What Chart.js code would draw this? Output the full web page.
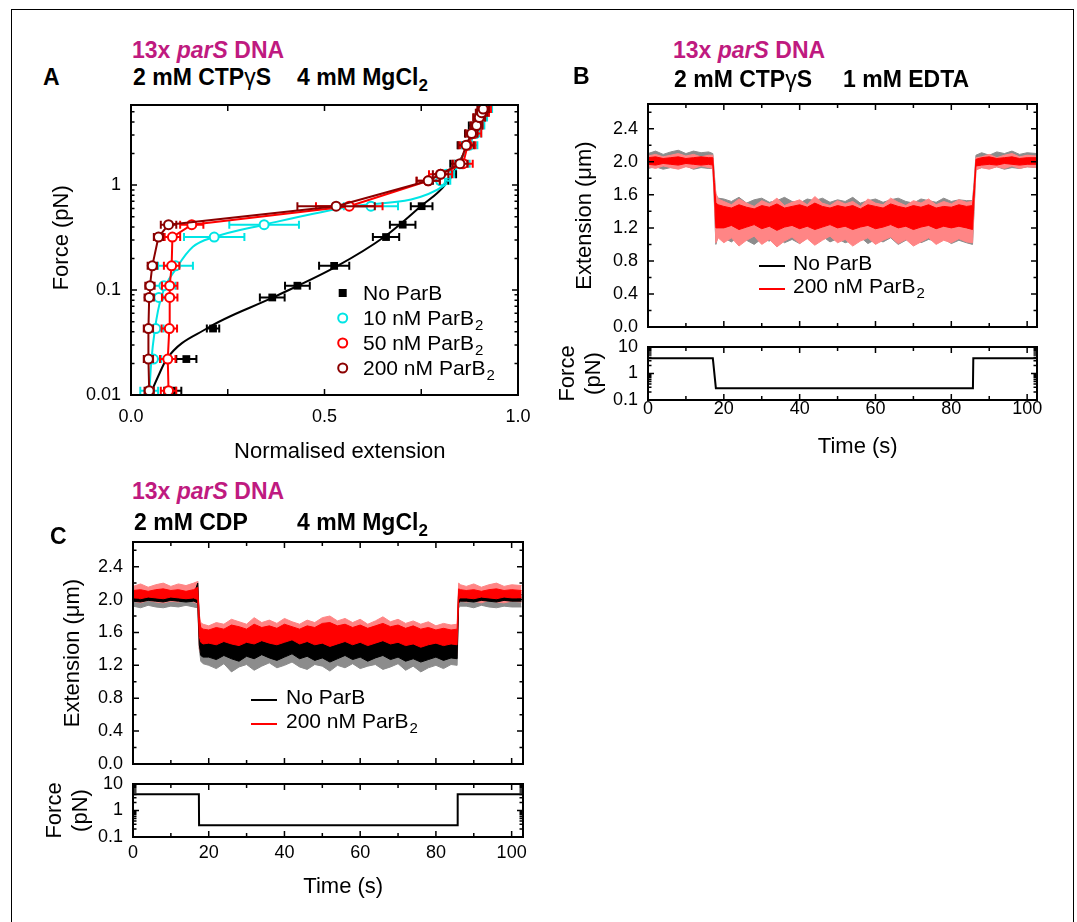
<!DOCTYPE html>
<html>
<head>
<meta charset="utf-8">
<script src="https://cdn.jsdelivr.net/npm/chart.js@4.4.1/dist/chart.umd.min.js"></script>
<style>
  body { margin: 0; width: 1077px; height: 922px; background: #fff; position: relative; overflow: hidden;
         font-family: "Liberation Sans", Arial, sans-serif; }
  .frame { position: absolute; left: 11px; top: 9px; width: 1061px; height: 960px; border: 1px solid #000; }
  canvas { position: absolute; }
  .t { position: absolute; font-weight: bold; font-size: 23px; line-height: 1; white-space: nowrap; }
  .mag { color: #bf1a80; }
  .g { font-weight: normal; }
  sub { font-size: 17px; vertical-align: -6px; line-height: 0; }
</style>
</head>
<body>
<div class="frame"></div>

<canvas id="cA" width="502" height="370" style="left:30px;top:95px"></canvas>
<canvas id="cBext" width="500" height="256" style="left:550px;top:89px"></canvas>
<canvas id="cBforce" width="500" height="128" style="left:550px;top:332px"></canvas>
<canvas id="cCext" width="505" height="253" style="left:30px;top:527px"></canvas>
<canvas id="cCforce" width="505" height="131" style="left:30px;top:769px"></canvas>

<div class="t mag" style="left:132px;top:39px">13x <i>parS</i> DNA</div>
<div class="t" style="left:43px;top:66px">A</div>
<div class="t" style="left:133px;top:66px">2 mM CTP<span class="g">γ</span>S</div>
<div class="t" style="left:297px;top:66px">4 mM MgCl<sub>2</sub></div>

<div class="t mag" style="left:673px;top:39px">13x <i>parS</i> DNA</div>
<div class="t" style="left:573px;top:65px">B</div>
<div class="t" style="left:674px;top:68px">2 mM CTP<span class="g">γ</span>S</div>
<div class="t" style="left:843px;top:68px">1 mM EDTA</div>

<div class="t mag" style="left:132px;top:480px">13x <i>parS</i> DNA</div>
<div class="t" style="left:50px;top:525px">C</div>
<div class="t" style="left:134px;top:511px">2 mM CDP</div>
<div class="t" style="left:297px;top:511px">4 mM MgCl<sub>2</sub></div>

<script>
// ---------- panel A: force vs normalised extension ----------
const forceA = [0.011, 0.022, 0.043, 0.085, 0.11, 0.17, 0.32, 0.42, 0.63, 1.1, 1.27, 1.6, 2.4, 3.1, 3.7, 4.4, 4.9, 5.3];
const extNoParB = [0.108, 0.143, 0.212, 0.365, 0.43, 0.525, 0.659, 0.702, 0.751, 0.80, 0.82, 0.845, 0.862, 0.878, 0.888, 0.897, 0.905, 0.912];
const errNoParB = [0.022, 0.026, 0.016, 0.032, 0.032, 0.039, 0.034, 0.033, 0.028, 0.02, 0.02, 0.02, 0.018, 0.015, 0.015, 0.012, 0.012, 0.012];
const ext10 = [0.047, 0.058, 0.064, 0.072, 0.085, 0.115, 0.215, 0.344, 0.62, 0.80, 0.815, 0.855, 0.875, 0.89, 0.898, 0.905, 0.91, 0.918];
const err10 = [0.023, 0.02, 0.02, 0.025, 0.03, 0.045, 0.078, 0.09, 0.07, 0.025, 0.02, 0.02, 0.02, 0.015, 0.015, 0.015, 0.015, 0.015];
const ext50 = [0.097, 0.095, 0.099, 0.10, 0.10, 0.105, 0.107, 0.157, 0.564, 0.768, 0.80, 0.858, 0.87, 0.885, 0.893, 0.90, 0.91, 0.915];
const err50 = [0.02, 0.02, 0.02, 0.02, 0.02, 0.02, 0.02, 0.03, 0.086, 0.03, 0.03, 0.025, 0.02, 0.02, 0.015, 0.015, 0.015, 0.015];
const ext200 = [0.047, 0.045, 0.045, 0.047, 0.049, 0.055, 0.071, 0.097, 0.53, 0.768, 0.80, 0.85, 0.866, 0.88, 0.893, 0.90, 0.906, 0.91];
const err200 = [0.012, 0.012, 0.012, 0.012, 0.012, 0.012, 0.012, 0.02, 0.1, 0.03, 0.02, 0.02, 0.02, 0.015, 0.015, 0.015, 0.015, 0.015];

// fitted curves
const fitNoParBX = [0.049, 0.07, 0.092, 0.196, 0.367, 0.53, 0.654, 0.749, 0.811, 0.872, 0.928];
const fitNoParBF = [0.01, 0.015, 0.022, 0.043, 0.085, 0.167, 0.32, 0.63, 1.0, 2.4, 5.75];
const fit10X = [0.047, 0.052, 0.062, 0.078, 0.12, 0.16, 0.215, 0.344, 0.574, 0.811, 0.872, 0.928];
const fit10F = [0.01, 0.02, 0.043, 0.085, 0.167, 0.258, 0.32, 0.42, 0.63, 1.0, 2.4, 5.75];

const xTicksA = [0, 0.5, 1];
const xMarksA = [0, 0.25, 0.5, 0.75, 1];
const yTicksA = [0.01, 0.1, 1];
const yMinorA = [0.02, 0.03, 0.04, 0.05, 0.06, 0.07, 0.08, 0.09, 0.2, 0.3, 0.4, 0.5, 0.6, 0.7, 0.8, 0.9, 2, 3, 4, 5];

// ---------- panels B and C: extension and force vs time ----------
const tTrace = [0, 2, 4, 6, 8, 10, 12, 14, 16, 17.1, 17.5, 17.9, 18.5,
  20, 22, 24, 26, 28, 30, 32, 34, 36, 38, 40, 42, 44, 46, 48, 50, 52, 54, 56, 58, 60,
  62, 64, 66, 68, 70, 72, 74, 76, 78, 80, 82, 84, 85.6, 86.0, 86.5, 88, 90, 92, 94, 96, 98, 100, 102.6];

// B, 200 nM ParB2: outer envelope and dense core
const bRedHi = [2.07, 2.09, 2.06, 2.08, 2.10, 2.07, 2.09, 2.06, 2.08, 2.08, 1.80, 1.62, 1.55,
  1.52, 1.48, 1.55, 1.50, 1.46, 1.53, 1.49, 1.56, 1.47, 1.51, 1.54, 1.48, 1.58, 1.50, 1.47, 1.53, 1.49, 1.52, 1.46, 1.55,
  1.50, 1.48, 1.56, 1.51, 1.47, 1.53, 1.50, 1.55, 1.48, 1.52, 1.49, 1.54, 1.51, 1.52, 1.70, 2.05,
  2.06, 2.09, 2.05, 2.08, 2.10, 2.06, 2.08, 2.07];
const bRedLo = [1.94, 1.92, 1.95, 1.93, 1.91, 1.94, 1.92, 1.95, 1.93, 1.92, 1.55, 1.02, 1.08,
  1.02, 1.08, 0.98, 1.05, 1.10, 1.00, 1.06, 0.97, 1.04, 1.09, 1.01, 1.07, 0.99, 1.05, 1.10, 1.02, 1.06, 0.98, 1.04, 1.08,
  1.00, 1.05, 1.09, 1.01, 1.06, 0.98, 1.03, 1.08, 1.00, 1.05, 1.02, 1.07, 1.03, 1.02, 1.45, 1.90,
  1.93, 1.91, 1.94, 1.92, 1.95, 1.92, 1.94, 1.93];
const bRedCoreHi = [2.05, 2.06, 2.04, 2.05, 2.06, 2.04, 2.05, 2.06, 2.05, 2.05, 1.75, 1.50, 1.48,
  1.46, 1.44, 1.48, 1.45, 1.43, 1.47, 1.45, 1.49, 1.44, 1.46, 1.48, 1.45, 1.50, 1.46, 1.44, 1.47, 1.45, 1.47, 1.43, 1.48,
  1.46, 1.44, 1.49, 1.46, 1.44, 1.47, 1.45, 1.48, 1.44, 1.46, 1.45, 1.48, 1.46, 1.47, 1.68, 2.03,
  2.05, 2.06, 2.04, 2.05, 2.06, 2.04, 2.05, 2.05];
const bRedCoreLo = [1.97, 1.96, 1.98, 1.97, 1.96, 1.98, 1.97, 1.96, 1.97, 1.96, 1.62, 1.20, 1.20,
  1.20, 1.23, 1.18, 1.21, 1.24, 1.19, 1.22, 1.17, 1.21, 1.23, 1.19, 1.22, 1.18, 1.21, 1.24, 1.20, 1.22, 1.18, 1.21, 1.23,
  1.19, 1.21, 1.24, 1.20, 1.22, 1.18, 1.21, 1.23, 1.19, 1.22, 1.20, 1.22, 1.20, 1.18, 1.55, 1.95,
  1.96, 1.97, 1.96, 1.98, 1.97, 1.96, 1.97, 1.97];
// B, no ParB
const bGreyHi = [2.10, 2.13, 2.09, 2.12, 2.14, 2.10, 2.13, 2.11, 2.12, 2.10, 1.85, 1.60, 1.56,
  1.55, 1.52, 1.57, 1.50, 1.54, 1.56, 1.51, 1.53, 1.57, 1.52, 1.50, 1.55, 1.53, 1.56, 1.51, 1.54, 1.52, 1.57, 1.50, 1.53,
  1.55, 1.51, 1.54, 1.56, 1.52, 1.50, 1.55, 1.53, 1.51, 1.56, 1.52, 1.54, 1.53, 1.53, 1.75, 2.08,
  2.11, 2.08, 2.12, 2.10, 2.13, 2.09, 2.11, 2.10];
const bGreyLo = [1.92, 1.94, 1.91, 1.93, 1.92, 1.95, 1.91, 1.93, 1.92, 1.92, 1.50, 1.00, 1.10,
  1.08, 1.03, 1.10, 1.05, 1.00, 1.07, 1.04, 1.09, 1.02, 1.06, 1.01, 1.08, 1.04, 1.10, 1.03, 1.07, 1.02, 1.05, 1.09, 1.01,
  1.06, 1.03, 1.08, 1.00, 1.05, 1.09, 1.02, 1.06, 1.04, 1.07, 1.01, 1.05, 1.02, 1.00, 1.40, 1.91,
  1.93, 1.92, 1.94, 1.91, 1.93, 1.92, 1.94, 1.93];

// C, 200 nM ParB2
const cRedHi = [2.16, 2.19, 2.15, 2.18, 2.20, 2.16, 2.19, 2.17, 2.20, 2.22, 1.82, 1.72, 1.70,
  1.68, 1.72, 1.70, 1.76, 1.73, 1.70, 1.78, 1.72, 1.75, 1.71, 1.77, 1.73, 1.70, 1.75, 1.72, 1.78, 1.80, 1.74, 1.77, 1.72,
  1.76, 1.70, 1.74, 1.79, 1.73, 1.76, 1.71, 1.74, 1.70, 1.73, 1.68, 1.71, 1.69, 1.70, 2.20, 2.18,
  2.16, 2.19, 2.15, 2.18, 2.20, 2.16, 2.18, 2.17];
const cRedLo = [1.98, 1.96, 1.99, 1.97, 1.96, 1.98, 1.97, 1.99, 1.97, 1.95, 1.40, 1.35, 1.32,
  1.36, 1.32, 1.38, 1.34, 1.30, 1.37, 1.33, 1.39, 1.35, 1.31, 1.36, 1.40, 1.34, 1.38, 1.32, 1.36, 1.28, 1.34, 1.38, 1.33,
  1.37, 1.31, 1.35, 1.39, 1.33, 1.36, 1.30, 1.34, 1.27, 1.33, 1.36, 1.31, 1.34, 1.33, 1.95, 1.98,
  1.97, 1.98, 1.96, 1.99, 1.97, 1.96, 1.98, 1.97];
const cRedCoreHi = [2.11, 2.12, 2.10, 2.12, 2.13, 2.11, 2.12, 2.10, 2.12, 2.15, 1.78, 1.66, 1.64,
  1.63, 1.66, 1.64, 1.69, 1.67, 1.64, 1.70, 1.66, 1.68, 1.65, 1.70, 1.67, 1.64, 1.68, 1.66, 1.71, 1.72, 1.68, 1.70, 1.66,
  1.69, 1.65, 1.68, 1.71, 1.67, 1.69, 1.65, 1.68, 1.64, 1.66, 1.63, 1.65, 1.63, 1.64, 2.13, 2.12,
  2.11, 2.12, 2.10, 2.12, 2.13, 2.11, 2.12, 2.11];
const cRedCoreLo = [2.02, 2.01, 2.03, 2.02, 2.01, 2.03, 2.02, 2.01, 2.02, 2.00, 1.55, 1.48, 1.46,
  1.47, 1.45, 1.49, 1.46, 1.44, 1.48, 1.46, 1.50, 1.47, 1.45, 1.48, 1.51, 1.46, 1.49, 1.45, 1.47, 1.43, 1.46, 1.49, 1.45,
  1.48, 1.44, 1.47, 1.50, 1.46, 1.48, 1.44, 1.46, 1.42, 1.45, 1.47, 1.44, 1.46, 1.45, 2.00, 2.02,
  2.02, 2.01, 2.03, 2.02, 2.01, 2.03, 2.02, 2.02];
// C, no ParB: dense core and grey outer envelope
const cBlkHi = [2.06, 2.07, 2.05, 2.06, 2.07, 2.05, 2.06, 2.07, 2.06, 2.20, 1.75, 1.50, 1.48,
  1.48, 1.46, 1.50, 1.47, 1.45, 1.49, 1.47, 1.50, 1.48, 1.46, 1.49, 1.51, 1.47, 1.50, 1.46, 1.48, 1.45, 1.47, 1.50, 1.46,
  1.49, 1.45, 1.48, 1.50, 1.47, 1.49, 1.45, 1.47, 1.44, 1.46, 1.48, 1.45, 1.47, 1.46, 2.10, 2.07,
  2.06, 2.07, 2.05, 2.06, 2.07, 2.05, 2.06, 2.06];
const cBlkLo = [1.98, 1.97, 1.99, 1.98, 1.97, 1.99, 1.98, 1.97, 1.98, 1.96, 1.45, 1.32, 1.30,
  1.30, 1.27, 1.32, 1.28, 1.25, 1.31, 1.28, 1.33, 1.29, 1.26, 1.30, 1.34, 1.28, 1.31, 1.26, 1.29, 1.24, 1.28, 1.32, 1.27,
  1.30, 1.25, 1.29, 1.32, 1.27, 1.30, 1.25, 1.28, 1.24, 1.27, 1.30, 1.26, 1.29, 1.28, 1.96, 1.98,
  1.98, 1.97, 1.99, 1.98, 1.97, 1.99, 1.98, 1.98];
const cGreyHi = [2.09, 2.11, 2.08, 2.10, 2.12, 2.09, 2.11, 2.08, 2.10, 2.22, 1.78, 1.55, 1.52,
  1.52, 1.50, 1.55, 1.51, 1.49, 1.54, 1.52, 1.56, 1.50, 1.53, 1.55, 1.58, 1.51, 1.54, 1.50, 1.53, 1.49, 1.52, 1.55, 1.50,
  1.54, 1.49, 1.52, 1.56, 1.51, 1.53, 1.49, 1.52, 1.48, 1.51, 1.53, 1.50, 1.52, 1.50, 2.12, 2.10,
  2.09, 2.11, 2.08, 2.10, 2.12, 2.09, 2.10, 2.09];
const cGreyLo = [1.92, 1.90, 1.93, 1.91, 1.90, 1.92, 1.91, 1.93, 1.91, 1.90, 1.40, 1.25, 1.22,
  1.20, 1.16, 1.22, 1.12, 1.18, 1.21, 1.14, 1.19, 1.23, 1.17, 1.20, 1.24, 1.18, 1.15, 1.21, 1.19, 1.13, 1.20, 1.17, 1.22,
  1.16, 1.19, 1.21, 1.15, 1.18, 1.22, 1.14, 1.19, 1.12, 1.17, 1.20, 1.16, 1.21, 1.20, 1.90, 1.92,
  1.92, 1.90, 1.93, 1.91, 1.90, 1.92, 1.91, 1.91];

// applied force steps
const tForceB = [0, 17.1, 17.9, 85.7, 85.8, 102.6];
const forceB = [3.75, 3.75, 0.28, 0.28, 3.75, 3.75];
const tForceC = [0, 17.4, 17.45, 85.7, 85.75, 103];
const forceC = [4.1, 4.1, 0.28, 0.28, 4.1, 4.1];

const timeTicks = [0, 20, 40, 60, 80, 100];
const timeMinor = [10, 30, 50, 70, 90];
const extTicks = [0, 0.4, 0.8, 1.2, 1.6, 2.0, 2.4];
const extMinor = [0.2, 0.6, 1.0, 1.4, 1.8, 2.2, 2.6];
const forceTicks = [0.1, 1, 10];
const forceMinor = [0.2, 0.3, 0.4, 0.5, 0.6, 0.7, 0.8, 0.9, 2, 3, 4, 5, 6, 7, 8, 9];

const CYAN = '#00e5e5', RED = '#ff0000', DARKRED = '#8b0000', PINK = '#ff8585', GREY = '#8c8c8c';

[bRedHi, bRedLo, bRedCoreHi, bRedCoreLo, bGreyHi, bGreyLo, cRedHi, cRedLo, cRedCoreHi, cRedCoreLo,
 cBlkHi, cBlkLo, cGreyHi, cGreyLo].forEach((a, i) => {
  if (a.length !== tTrace.length) throw new Error('trace array ' + i + ' has ' + a.length);
});

Chart.defaults.font.family = "'Liberation Sans', Arial, sans-serif";
Chart.defaults.color = '#000';
Chart.defaults.animation = false;

const xy = (xs, ys) => xs.map((x, i) => ({ x: x, y: ys[i] }));

// box frame with inward ticks on all four sides
const frameTicks = {
  id: 'frameTicks',
  afterDraw(chart, args, o) {
    const { ctx, chartArea: a } = chart;
    const xs = chart.scales.x, ys = chart.scales.y;
    ctx.save();
    ctx.strokeStyle = '#000';
    ctx.lineWidth = 1.5;
    ctx.beginPath();
    const vx = (vals, len) => (vals || []).forEach(v => {
      const p = xs.getPixelForValue(v);
      ctx.moveTo(p, a.bottom); ctx.lineTo(p, a.bottom - len);
      ctx.moveTo(p, a.top); ctx.lineTo(p, a.top + len);
    });
    const vy = (vals, len) => (vals || []).forEach(v => {
      const p = ys.getPixelForValue(v);
      ctx.moveTo(a.left, p); ctx.lineTo(a.left + len, p);
      ctx.moveTo(a.right, p); ctx.lineTo(a.right - len, p);
    });
    vx(o.xMajor, 6); vx(o.xMinor, 4);
    vy(o.yMajor, 6); vy(o.yMinor, 3.5);
    ctx.stroke();
    ctx.lineWidth = 2;
    ctx.strokeRect(a.left, a.top, a.right - a.left, a.bottom - a.top);
    ctx.restore();
  }
};

// horizontal error bars, drawn just below each dataset's markers
const errorBars = {
  id: 'errorBars',
  beforeDatasetDraw(chart, args) {
    const ds = chart.data.datasets[args.index];
    if (!ds.xErr) return;
    const ctx = chart.ctx, xs = chart.scales.x, ys = chart.scales.y;
    ctx.save();
    ctx.strokeStyle = ds.borderColor;
    ctx.lineWidth = 2;
    ctx.beginPath();
    ds.data.forEach((p, i) => {
      const x0 = xs.getPixelForValue(p.x - ds.xErr[i]);
      const x1 = xs.getPixelForValue(p.x + ds.xErr[i]);
      const y = ys.getPixelForValue(p.y);
      ctx.moveTo(x0, y); ctx.lineTo(x1, y);
      ctx.moveTo(x0, y - 4); ctx.lineTo(x0, y + 4);
      ctx.moveTo(x1, y - 4); ctx.lineTo(x1, y + 4);
    });
    ctx.stroke();
    ctx.restore();
  }
};

// legend with subscripts
const boxLegend = {
  id: 'boxLegend',
  afterDraw(chart, args, o) {
    if (!o.items) return;
    const { ctx, chartArea: a } = chart;
    const font = "'Liberation Sans', Arial, sans-serif";
    ctx.save();
    o.items.forEach((it, i) => {
      const y = a.top + o.y + i * o.row;
      const mx = a.left + o.x;
      ctx.strokeStyle = it.color;
      ctx.fillStyle = it.color;
      ctx.lineWidth = 2;
      if (it.type === 'line') {
        ctx.beginPath(); ctx.moveTo(mx, y); ctx.lineTo(mx + o.len, y); ctx.stroke();
      } else if (it.type === 'square') {
        ctx.fillRect(mx - 4, y - 4, 8, 8);
      } else {
        ctx.beginPath(); ctx.arc(mx, y, 4.5, 0, 2 * Math.PI);
        ctx.fillStyle = '#fff'; ctx.fill(); ctx.stroke();
      }
      const tx = a.left + o.tx, ty = y + o.dy;
      ctx.fillStyle = '#000';
      ctx.textBaseline = 'middle';
      ctx.textAlign = 'left';
      ctx.font = '21px ' + font;
      ctx.fillText(it.text, tx, ty);
      if (it.sub) {
        const w = ctx.measureText(it.text).width;
        ctx.font = '15px ' + font;
        ctx.fillText(it.sub, tx + w + 1, ty + 7);
      }
    });
    ctx.restore();
  }
};

Chart.register(frameTicks, errorBars, boxLegend);

function axis(type, min, max, tickVals, fmt, fit, extra) {
  return Object.assign({
    type: type, min: min, max: max,
    grid: { display: false, drawTicks: false },
    border: { display: false },
    afterBuildTicks: s => { s.ticks = tickVals.map(v => ({ value: v })); },
    afterFit: s => {
      if (fit.w !== undefined) { s.width = fit.w; s.paddingTop = 0; s.paddingBottom = 0; }
      if (fit.h !== undefined) { s.height = fit.h; s.paddingLeft = 0; s.paddingRight = 0; }
    },
    ticks: { callback: fmt, font: { size: 18 }, autoSkip: false, maxRotation: 0, padding: fit.pad }
  }, extra);
}

const title = (text, pad) => ({ display: true, text: text, font: { size: 22 }, padding: { top: pad, bottom: 0 } });
const basePlugins = { legend: { display: false }, tooltip: { enabled: false } };

function band(hi, lo, color) {
  return [
    { data: xy(tTrace, hi), borderColor: color, backgroundColor: color, borderWidth: 1, pointRadius: 0, fill: '+1' },
    { data: xy(tTrace, lo), borderColor: color, borderWidth: 1, pointRadius: 0, fill: false }
  ];
}

// ---------- A ----------
const circleSet = (ext, err, color) => ({
  data: xy(ext, forceA), xErr: err, borderColor: color, borderWidth: 2, pointStyle: 'circle',
  pointRadius: 4.5, pointBorderWidth: 2, pointBackgroundColor: '#fff', pointBorderColor: color, tension: 0
});

new Chart(document.getElementById('cA'), {
  type: 'line',
  data: {
    datasets: [
      Object.assign(circleSet(ext200, err200, DARKRED), { showLine: true }),
      Object.assign(circleSet(ext50, err50, RED), { showLine: true }),
      Object.assign(circleSet(ext10, err10, CYAN), { showLine: false }),
      { data: xy(extNoParB, forceA), xErr: errNoParB, borderColor: '#000', pointStyle: 'rect', pointRadius: 5.5,
        pointBackgroundColor: '#000', pointBorderWidth: 0, showLine: false },
      { data: xy(fit10X, fit10F), borderColor: CYAN, borderWidth: 2, pointRadius: 0, cubicInterpolationMode: 'monotone' },
      { data: xy(fitNoParBX, fitNoParBF), borderColor: '#000', borderWidth: 2, pointRadius: 0, cubicInterpolationMode: 'monotone' }
    ]
  },
  options: {
    responsive: false,
    layout: { padding: { left: 0, right: 14, top: 10, bottom: 0 } },
    scales: {
      x: axis('linear', 0, 1, xTicksA, v => v.toFixed(1), { h: 70, pad: 11 },
        { title: title('     Normalised extension', 11.8) }),
      y: axis('logarithmic', 0.01, 5.8, yTicksA, v => String(v), { w: 101, pad: 10 },
        { title: title('    Force (pN)', 18.8) })
    },
    plugins: Object.assign({}, basePlugins, {
      frameTicks: { xMajor: xMarksA, yMajor: yTicksA, yMinor: yMinorA },
      boxLegend: {
        x: 211.7, tx: 232, y: 188, row: 25, dy: 1,
        items: [
          { type: 'square', color: '#000', text: 'No ParB' },
          { type: 'circle', color: CYAN, text: '10 nM ParB', sub: '2' },
          { type: 'circle', color: RED, text: '50 nM ParB', sub: '2' },
          { type: 'circle', color: DARKRED, text: '200 nM ParB', sub: '2' }
        ]
      }
    })
  }
});

// ---------- B and C ----------
function extChart(id, sets, yTitlePad, yWidth, xMax, legendPos) {
  new Chart(document.getElementById(id), {
    type: 'line',
    data: { datasets: sets },
    options: {
      responsive: false,
      layout: { padding: { left: 0, right: legendPos.right, top: 15, bottom: 0 } },
      scales: {
        x: axis('linear', 0, xMax, timeTicks, v => String(v), { h: legendPos.xh, pad: 0 },
          { ticks: { display: false } }),
        y: axis('linear', 0, 2.7, extTicks, v => v.toFixed(1), { w: yWidth, pad: 10 },
          { title: title('Extension (\u03bcm)', yTitlePad) })
      },
      plugins: Object.assign({}, basePlugins, {
        frameTicks: { xMajor: timeTicks, xMinor: timeMinor, yMajor: extTicks, yMinor: extMinor },
        boxLegend: {
          x: legendPos.x, len: 26, tx: legendPos.tx, y: legendPos.y, row: legendPos.row, dy: -2,
          items: [
            { type: 'line', color: '#000', text: 'No ParB' },
            { type: 'line', color: RED, text: '200 nM ParB', sub: '2' }
          ]
        }
      })
    }
  });
}

function forceChart(id, t, f, yTitlePad, yWidth, xMax, xh, tickPad, xTitlePad, right) {
  new Chart(document.getElementById(id), {
    type: 'line',
    data: { datasets: [{ data: xy(t, f), borderColor: '#000', borderWidth: 2, pointRadius: 0 }] },
    options: {
      responsive: false,
      layout: { padding: { left: 0, right: right, top: 15, bottom: 0 } },
      scales: {
        x: axis('linear', 0, xMax, timeTicks, v => String(v), { h: xh, pad: tickPad },
          { title: title('     Time (s)', xTitlePad) }),
        y: axis('logarithmic', 0.1, 10, forceTicks, v => String(v), { w: yWidth, pad: 10 },
          { title: title(['Force', '(pN)'], yTitlePad) })
      },
      plugins: Object.assign({}, basePlugins, {
        frameTicks: { xMajor: timeTicks, xMinor: timeMinor, yMajor: forceTicks, yMinor: forceMinor }
      })
    }
  });
}

extChart('cBext', [].concat(
  band(bRedCoreHi, bRedCoreLo, RED),
  band(bRedHi, bRedLo, PINK),
  band(bGreyHi, bGreyLo, GREY)
), 21.8, 98, 102.6, { right: 13, xh: 18, x: 111, tx: 145, y: 162, row: 23 });

forceChart('cBforce', tForceB, forceB, 4.8, 98, 102.6, 60, -2, 2.8, 13);

extChart('cCext', [].concat(
  band(cRedCoreHi, cRedCoreLo, RED),
  band(cBlkHi, cBlkLo, '#000'),
  band(cRedHi, cRedLo, PINK),
  band(cGreyHi, cGreyLo, GREY)
), 29.8, 103, 103, { right: 12, xh: 16, x: 118, tx: 153, y: 158, row: 24 });

forceChart('cCforce', tForceC, forceC, 11.8, 103, 103, 63, 5.5, 7.8, 12);
</script>
</body>
</html>
